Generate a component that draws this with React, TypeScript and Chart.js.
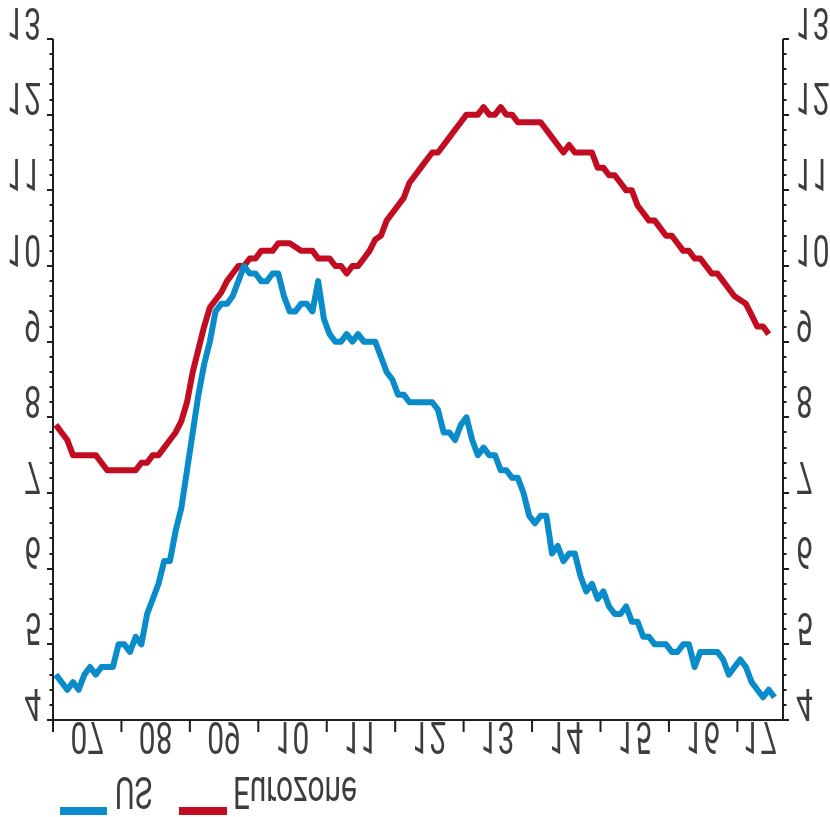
import React, { useEffect, useRef } from "react";
import { Chart, registerables } from "chart.js";

Chart.register(...registerables);

// Monthly unemployment rates, Jan 2007 onwards (%)
const usRate = [
  4.6, 4.5, 4.4, 4.5, 4.4, 4.6, 4.7, 4.6, 4.7, 4.7, 4.7, 5.0,
  5.0, 4.9, 5.1, 5.0, 5.4, 5.6, 5.8, 6.1, 6.1, 6.5, 6.8, 7.3,
  7.8, 8.3, 8.7, 9.0, 9.4, 9.5, 9.5, 9.6, 9.8, 10.0, 9.9, 9.9,
  9.8, 9.8, 9.9, 9.9, 9.6, 9.4, 9.4, 9.5, 9.5, 9.4, 9.8, 9.3,
  9.1, 9.0, 9.0, 9.1, 9.0, 9.1, 9.0, 9.0, 9.0, 8.8, 8.6, 8.5,
  8.3, 8.3, 8.2, 8.2, 8.2, 8.2, 8.2, 8.1, 7.8, 7.8, 7.7, 7.9,
  8.0, 7.7, 7.5, 7.6, 7.5, 7.5, 7.3, 7.3, 7.2, 7.2, 7.0, 6.7,
  6.6, 6.7, 6.7, 6.2, 6.3, 6.1, 6.2, 6.2, 5.9, 5.7, 5.8, 5.6,
  5.7, 5.5, 5.4, 5.4, 5.5, 5.3, 5.3, 5.1, 5.1, 5.0, 5.0, 5.0,
  4.9, 4.9, 5.0, 5.0, 4.7, 4.9, 4.9, 4.9, 4.9, 4.8, 4.6, 4.7,
  4.8, 4.7, 4.5, 4.4, 4.3, 4.4, 4.3,
];

const ezRate = [
  7.9, 7.8, 7.7, 7.5, 7.5, 7.5, 7.5, 7.5, 7.4, 7.3, 7.3, 7.3,
  7.3, 7.3, 7.3, 7.4, 7.4, 7.5, 7.5, 7.6, 7.7, 7.8, 7.95, 8.2,
  8.6, 8.9, 9.2, 9.45, 9.55, 9.65, 9.8, 9.9, 10.0, 10.0, 10.1, 10.1,
  10.2, 10.2, 10.2, 10.3, 10.3, 10.3, 10.25, 10.2, 10.2, 10.2, 10.1, 10.1,
  10.1, 10.0, 10.0, 9.9, 10.0, 10.0, 10.1, 10.2, 10.35, 10.4, 10.6, 10.7,
  10.8, 10.9, 11.1, 11.2, 11.3, 11.4, 11.5, 11.5, 11.6, 11.7, 11.8, 11.9,
  12.0, 12.0, 12.0, 12.1, 12.0, 12.0, 12.1, 12.0, 12.0, 11.9, 11.9, 11.9,
  11.9, 11.9, 11.8, 11.7, 11.6, 11.5, 11.6, 11.5, 11.5, 11.5, 11.5, 11.3,
  11.3, 11.2, 11.2, 11.1, 11.0, 11.0, 10.8, 10.7, 10.6, 10.6, 10.5, 10.4,
  10.4, 10.3, 10.2, 10.2, 10.1, 10.1, 10.0, 9.9, 9.9, 9.8, 9.7, 9.6,
  9.55, 9.5, 9.35, 9.2, 9.2, 9.1,
];

const startYear = 2007;
const monthsShown = 128; // Jan 2007 .. Aug 2017
const yearTicks = [2007, 2008, 2009, 2010, 2011, 2012, 2013, 2014, 2015, 2016, 2017];
const yearLabels = ["07", "08", "09", "10", "11", "12", "13", "14", "15", "16", "17"];
const yMin = 4;
const yMax = 13;
const yLabels = ["4", "5", "6", "7", "8", "9", "10", "11", "12", "13"];
const seriesNames = ["US", "Eurozone"];
const seriesColors = ["#0a8bca", "#c20c22"];

const FONT_SIZE = 44;
const SX = 0.68;
const CAP = FONT_SIZE * 0.711;
const TEXT_COLOR = "#3d3d3d";
const FONT = `${FONT_SIZE}px Roboto, "Noto Sans", sans-serif`;

function toPoints(arr: number[]) {
  return arr.map((v, i) => ({ x: startYear + (i + 0.5) / 12, y: v }));
}

function flippedText(ctx: CanvasRenderingContext2D, text: string, x: number, baseY: number, align: CanvasTextAlign) {
  ctx.save();
  ctx.translate(x, baseY);
  ctx.scale(SX, -1);
  ctx.textAlign = align;
  ctx.textBaseline = "alphabetic";
  ctx.fillText(text, 0, 0);
  ctx.restore();
}

const axesPlugin = {
  id: "flippedAxes",
  afterDraw(chart: any) {
    const { ctx, chartArea: a, scales } = chart;
    const xs = scales.x;
    const ys = scales.y;
    ctx.save();
    ctx.strokeStyle = "#1e1e1e";
    ctx.lineWidth = 2;
    ctx.lineCap = "butt";
    ctx.beginPath();
    ctx.moveTo(a.left, a.top);
    ctx.lineTo(a.left, a.bottom + 12);
    ctx.moveTo(a.right, a.top);
    ctx.lineTo(a.right, a.bottom + 1);
    ctx.moveTo(a.left - 1, a.bottom);
    ctx.lineTo(a.right + 1, a.bottom);
    // y ticks (major every 1, minor every 0.2)
    const steps = (yMax - yMin) * 5;
    for (let k = 0; k <= steps; k++) {
      const v = yMin + k / 5;
      const py = Math.round(ys.getPixelForValue(v));
      const major = k % 5 === 0;
      const len = major ? 6 : 3.5;
      ctx.moveTo(a.left - len, py);
      ctx.lineTo(a.left, py);
      ctx.moveTo(a.right, py);
      ctx.lineTo(a.right + len, py);
    }
    // x ticks at each year
    yearTicks.forEach((yr) => {
      const px = xs.getPixelForValue(yr);
      if (px > a.left + 1 && px < a.right - 1) {
        ctx.moveTo(px, a.bottom);
        ctx.lineTo(px, a.bottom + 12);
      }
    });
    ctx.stroke();

    ctx.fillStyle = TEXT_COLOR;
    ctx.font = FONT;
    yLabels.forEach((lab, i) => {
      const py = ys.getPixelForValue(yMin + i);
      flippedText(ctx, lab, a.left - 12, py - CAP, "right");
      flippedText(ctx, lab, a.right + 13, py - CAP, "left");
    });
    const xMax = xs.max;
    yearTicks.forEach((yr, i) => {
      const x0 = xs.getPixelForValue(yr);
      const x1 = xs.getPixelForValue(Math.min(yr + 1, xMax));
      flippedText(ctx, yearLabels[i], (x0 + x1) / 2, a.bottom + 2, "center");
    });

    // legend
    const legY = 811;
    const legItems = [
      { x0: 60, x1: 107, tx: 115 },
      { x0: 179, x1: 227, tx: 233 },
    ];
    legItems.forEach((it, i) => {
      ctx.strokeStyle = seriesColors[i];
      ctx.lineWidth = 8;
      ctx.beginPath();
      ctx.moveTo(it.x0, legY);
      ctx.lineTo(it.x1, legY);
      ctx.stroke();
      ctx.fillStyle = TEXT_COLOR;
      flippedText(ctx, seriesNames[i], it.tx, 777, "left");
    });
    ctx.restore();
  },
};

export default function App() {
  const ref = useRef<HTMLCanvasElement | null>(null);
  useEffect(() => {
    if (!ref.current) return;
    const chart = new Chart(ref.current, {
      type: "line",
      data: {
        datasets: [
          {
            label: seriesNames[0],
            data: toPoints(usRate),
            borderColor: seriesColors[0],
            borderWidth: 6,
            pointRadius: 0,
            tension: 0,
            borderJoinStyle: "round",
          },
          {
            label: seriesNames[1],
            data: toPoints(ezRate),
            borderColor: seriesColors[1],
            borderWidth: 6,
            pointRadius: 0,
            tension: 0,
            borderJoinStyle: "round",
          },
        ],
      },
      options: {
        responsive: false,
        animation: false,
        layout: { padding: { left: 53, right: 47, top: 39, bottom: 97 } },
        plugins: { legend: { display: false }, tooltip: { enabled: false } },
        scales: {
          x: { type: "linear", min: startYear, max: startYear + monthsShown / 12, display: false },
          y: { type: "linear", min: yMin, max: yMax, display: false },
        },
      },
      plugins: [axesPlugin],
    });
    return () => chart.destroy();
  }, []);
  return (
    <div style={{ position: "fixed", left: 0, top: 0, width: 830, height: 817, background: "#fff" }}>
      <canvas ref={ref} width={830} height={817} style={{ width: 830, height: 817, display: "block" }} />
    </div>
  );
}
